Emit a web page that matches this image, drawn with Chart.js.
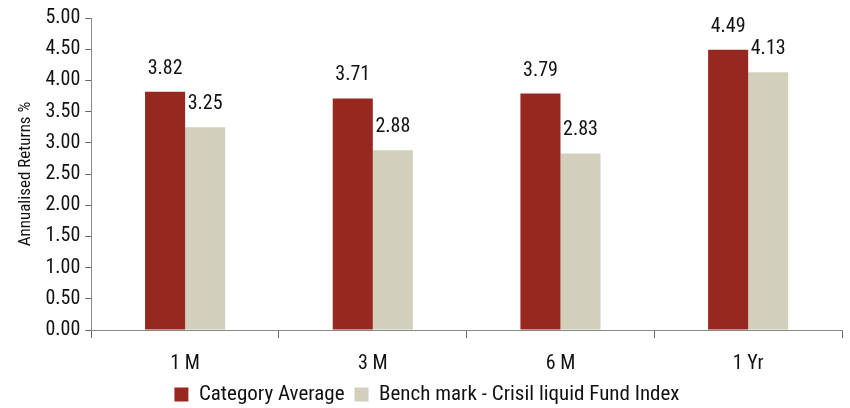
<!DOCTYPE html>
<html>
<head>
<meta charset="utf-8">
<script src="https://cdn.jsdelivr.net/npm/chart.js@4"></script>
<style>
  body { margin: 0; background: #fff; }
  #wrap { width: 850px; height: 408px; }
</style>
</head>
<body>
<div id="wrap"><canvas id="returnsChart"></canvas></div>
<script>
const periods = ['1 M', '3 M', '6 M', '1 Yr'];
const categoryAverage = [3.82, 3.71, 3.79, 4.49];
const benchmark = [3.25, 2.88, 2.83, 4.13];

const fontName = '"Liberation Sans Narrow", "Roboto Condensed", Roboto, sans-serif';

// draw the values above each bar
const barLabels = {
    id: 'barLabels',
    afterDatasetsDraw(chart) {
        const ctx = chart.ctx;
        ctx.save();
        ctx.font = '20px ' + fontName;
        ctx.fillStyle = '#111';
        ctx.textAlign = 'center';
        ctx.textBaseline = 'bottom';
        chart.data.datasets.forEach((ds, i) => {
            chart.getDatasetMeta(i).data.forEach((bar, j) => {
                ctx.fillText(ds.data[j].toFixed(2), bar.x, bar.y - 13);
            });
        });
        ctx.restore();
    }
};

const data = {
    labels: periods,
    datasets: [{
        label: 'Category Average',
        data: categoryAverage,
        backgroundColor: '#96281F',
        barPercentage: 1,
        categoryPercentage: 0.427
    }, {
        label: 'Bench mark - Crisil liquid Fund Index',
        data: benchmark,
        backgroundColor: '#D2CFBD',
        barPercentage: 1,
        categoryPercentage: 0.427
    }]
};

const config = {
    type: 'bar',
    data: data,
    plugins: [barLabels],
    options: {
        responsive: true,
        maintainAspectRatio: false,
        animation: false,
        layout: { padding: { top: 18, right: 8, left: 12, bottom: -7 } },
        plugins: {
            tooltip: { enabled: false },
            legend: {
                position: 'bottom',
                labels: {
                    boxWidth: 14,
                    boxHeight: 14,
                    padding: 10,
                    color: '#111',
                    font: { family: fontName, size: 21 }
                }
            }
        },
        scales: {
            x: {
                afterFit: scale => { scale.height -= 16; },
                grid: { drawOnChartArea: false, tickLength: 8, color: '#666' },
                border: { color: '#888' },
                ticks: { color: '#111', padding: 14, font: { family: fontName, size: 20 } }
            },
            y: {
                min: 0,
                max: 5,
                ticks: {
                    stepSize: 0.5,
                    color: '#111',
                    padding: 5,
                    font: { family: fontName, size: 20 },
                    callback: v => v.toFixed(2)
                },
                grid: { drawOnChartArea: false, tickLength: 6, color: '#666' },
                border: { color: '#888' },
                title: {
                    display: true,
                    text: 'Annualised Returns %',
                    color: '#111',
                    padding: 4,
                    font: { family: fontName, size: 17 }
                }
            }
        }
    }
};

new Chart(document.getElementById('returnsChart'), config);
</script>
</body>
</html>
